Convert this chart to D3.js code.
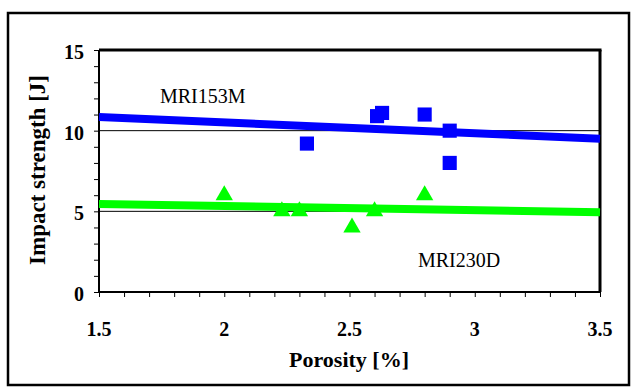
<!DOCTYPE html>
<html><head><meta charset="utf-8">
<script src="https://cdn.jsdelivr.net/npm/d3@7"></script>
</head><body style="margin:0">
<script>
const mriMX = [2.33, 2.61, 2.63, 2.80, 2.90, 2.90];
const mriMY = [9.2, 10.9, 11.1, 11.0, 10.0, 8.0];
const mriDX = [2.00, 2.23, 2.30, 2.51, 2.60, 2.80];
const mriDY = [6.0, 5.0, 5.0, 4.0, 5.0, 6.0];
const trendMX = [1.5, 3.5];
const trendMY = [10.85, 9.5];
const trendDX = [1.5, 3.5];
const trendDY = [5.45, 4.95];
const xTicks = [1.5, 2, 2.5, 3, 3.5];
const yTicks = [0, 5, 10, 15];
const gridY = [5, 10];

const W = 633, H = 388;
const FF = '"Liberation Serif"';
const svg = d3.select("body").append("svg").attr("width", W).attr("height", H)
  .style("display", "block").attr("font-family", "Liberation Serif");
svg.append("rect").attr("x", 8).attr("y", 13).attr("width", 621).attr("height", 372)
  .attr("fill", "#fff").attr("stroke", "#000").attr("stroke-width", 2.5);

const L = 99, R = 600, T = 50, B = 292;
const x = d3.scaleLinear().domain([1.5, 3.5]).range([L, R]);
const y = d3.scaleLinear().domain([0, 15]).range([B, T]);

svg.selectAll(".grid").data(gridY).enter().append("line")
  .attr("x1", L).attr("x2", R).attr("y1", d => y(d)).attr("y2", d => y(d))
  .attr("stroke", "#000").attr("stroke-width", 1);

svg.append("line").attr("x1", L).attr("x2", R + 1.5).attr("y1", T).attr("y2", T).attr("stroke", "#000").attr("stroke-width", 3);
svg.append("line").attr("x1", R).attr("x2", R).attr("y1", T).attr("y2", B).attr("stroke", "#000").attr("stroke-width", 3);

const xAxis = d3.axisBottom(x).tickValues(d3.range(15, 35.5, 1).map(v => v / 10)).tickSize(5).tickFormat("");
const gx = svg.append("g").attr("transform", `translate(0,${B})`).call(xAxis);
gx.select(".domain").attr("stroke-width", 2).attr("d", `M${L},0H${R}`);
const yAxis = d3.axisLeft(y).tickValues(d3.range(0, 16, 1)).tickSize(5).tickFormat("");
const gy = svg.append("g").attr("transform", `translate(${L},0)`).call(yAxis);
gy.select(".domain").attr("stroke-width", 2).attr("d", `M0,${B}V${T}`);

const labels = svg.append("g");
labels.selectAll(".xl").data(xTicks).enter().append("text")
  .attr("x", d => x(d)).attr("y", 336).attr("text-anchor", "middle")
  .style("font-family", FF).style("font-weight", "bold").style("font-size", "20px").text(d => d);
labels.selectAll(".yl").data(yTicks).enter().append("text")
  .attr("x", 84).attr("y", d => y(d) + 9).attr("text-anchor", "end")
  .style("font-family", FF).style("font-weight", "bold").style("font-size", "20px").text(d => d);

labels.append("text").attr("x", 349).attr("y", 367).attr("text-anchor", "middle")
  .style("font-family", FF).style("font-weight", "bold").style("font-size", "22px").text("Porosity [%]");
labels.append("text").attr("transform", "translate(45,170) rotate(-90)").attr("text-anchor", "middle")
  .style("font-family", FF).style("font-weight", "bold").style("font-size", "23px").text("Impact strength [J]");

const line = d3.line().x(d => x(d[0])).y(d => y(d[1]));
svg.append("path").datum(trendDX.map((v, i) => [v, trendDY[i]])).attr("d", line)
  .attr("stroke", "#00ff00").attr("stroke-width", 8).attr("fill", "none");
svg.append("path").datum(trendMX.map((v, i) => [v, trendMY[i]])).attr("d", line)
  .attr("stroke", "#0000ff").attr("stroke-width", 8).attr("fill", "none");

const sq = d3.symbol().type(d3.symbolSquare).size(200);
svg.selectAll(".sq").data(mriMX.map((v, i) => [v, mriMY[i]])).enter().append("path")
  .attr("d", sq).attr("transform", d => `translate(${x(d[0])},${y(d[1])})`).attr("fill", "#0000ff");
const tri = d3.symbol().type(d3.symbolTriangle).size(130);
svg.selectAll(".tr").data(mriDX.map((v, i) => [v, mriDY[i]])).enter().append("path")
  .attr("d", tri).attr("transform", d => `translate(${x(d[0])},${y(d[1])})`).attr("fill", "#00ff00");

labels.append("text").attr("x", 160).attr("y", 103).style("font-family", FF).style("font-size", "20px").text("MRI153M");
labels.append("text").attr("x", 418).attr("y", 267).style("font-family", FF).style("font-size", "20px").text("MRI230D");
</script>
</body></html>
